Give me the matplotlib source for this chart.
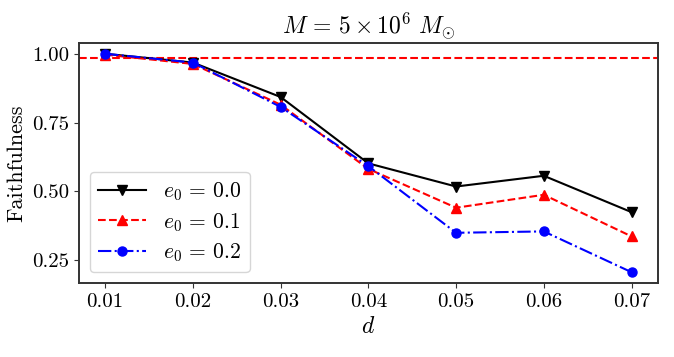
import matplotlib.pyplot as plt

plt.rcParams["font.family"] = "serif"
plt.rcParams["font.serif"] = ["cmr10"]
plt.rcParams["mathtext.fontset"] = "cm"
plt.rcParams["axes.formatter.use_mathtext"] = True
plt.rcParams["axes.edgecolor"] = "#333333"
plt.rcParams["axes.linewidth"] = 1.4
plt.rcParams["xtick.color"] = "#333333"
plt.rcParams["ytick.color"] = "#333333"
plt.rcParams["xtick.labelcolor"] = "black"
plt.rcParams["ytick.labelcolor"] = "black"

d = [0.01, 0.02, 0.03, 0.04, 0.05, 0.06, 0.07]
ff_e00 = [1.00, 0.968, 0.843, 0.602, 0.518, 0.557, 0.425]
ff_e01 = [0.997, 0.963, 0.815, 0.582, 0.441, 0.488, 0.337]
ff_e02 = [1.00, 0.968, 0.807, 0.592, 0.350, 0.355, 0.207]
threshold = 0.985

fig, ax = plt.subplots(figsize=(6.74, 3.57), dpi=100)
ax.axhline(threshold, color="red", linestyle="--", linewidth=1.5)
ax.plot(d, ff_e00, color="black", linestyle="-", marker="v", markersize=7, linewidth=1.5, label=r"$e_0\,=\,0.0$")
ax.plot(d, ff_e01, color="red", linestyle="--", marker="^", markersize=7, linewidth=1.5, label=r"$e_0\,=\,0.1$")
ax.plot(d, ff_e02, color="blue", linestyle="-.", marker="o", markersize=6.5, linewidth=1.5, label=r"$e_0\,=\,0.2$")

ax.set_xlim(0.007, 0.073)
ax.set_xticks(d)
ax.set_yticks([0.25, 0.50, 0.75, 1.00])
ax.set_xticklabels(["0.01", "0.02", "0.03", "0.04", "0.05", "0.06", "0.07"])
ax.set_yticklabels(["0.25", "0.50", "0.75", "1.00"])
ax.tick_params(labelsize=15)
ax.set_xlabel(r"$d$", fontsize=17)
ax.set_ylabel("Faithfulness", fontsize=16)
ax.set_title(r"$M\,=\,5\times10^6\ M_{\odot}$", fontsize=17)
ax.legend(loc="lower left", fontsize=15.5, handlelength=2.2, labelspacing=0.35)

plt.subplots_adjust(left=0.117, right=0.976, top=0.880, bottom=0.207)
plt.savefig("out.png", dpi=100)
